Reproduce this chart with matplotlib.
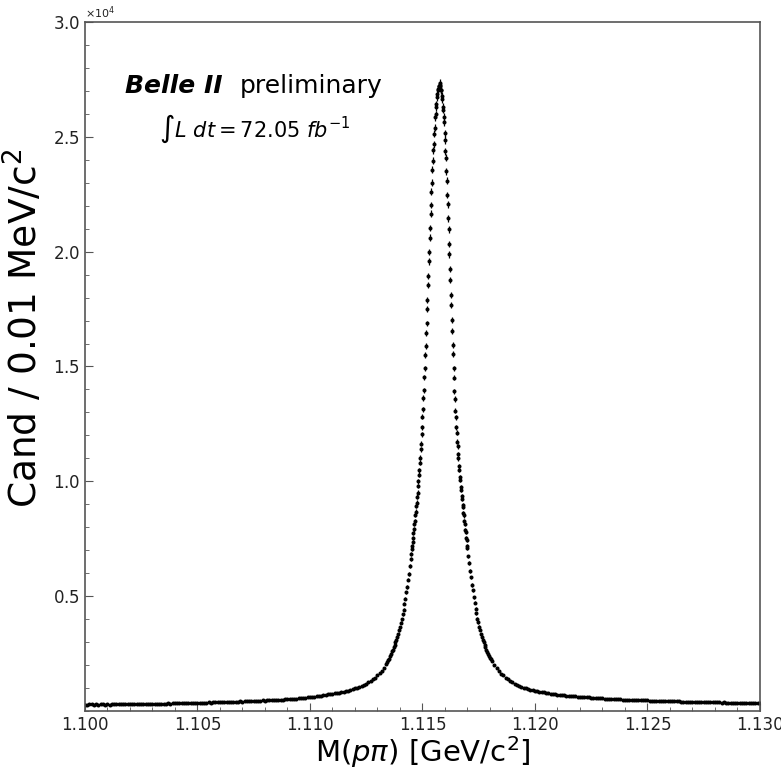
import numpy as np
import matplotlib
matplotlib.use("Agg")
import matplotlib.pyplot as plt
from matplotlib.ticker import MultipleLocator, ScalarFormatter

# ---- data (candidates per 0.01 MeV bin) ----
# left sideband, bin centres 1.1000 .. 1.1134 GeV every 0.1 MeV
counts_left = [
    281, 276, 290, 284, 273, 288, 279, 292, 285, 283,
    294, 282, 289, 297, 286, 291, 300, 288, 295, 303,
    296, 305, 292, 308, 301, 297, 311, 304, 315, 306,
    318, 309, 322, 314, 326, 317, 320, 331, 323, 335,
    328, 340, 333, 345, 338, 350, 342, 355, 347, 358,
    352, 364, 357, 369, 362, 374, 367, 380, 373, 386,
    379, 392, 385, 398, 391, 404, 398, 411, 405, 418,
    412, 425, 419, 433, 427, 441, 436, 449, 444, 458,
    456, 463, 465, 473, 475, 483, 485, 493, 496, 503,
    508, 514, 525, 531, 543, 549, 562, 569, 583, 591,
    605, 615, 631, 641, 658, 670, 688, 701, 721, 736,
    756, 771, 789, 802, 822, 838, 859, 878, 914, 942,
    981, 1010, 1048, 1083, 1134, 1182, 1243, 1291, 1374, 1455,
    1553, 1636, 1754, 1884, 2056,
]
# left rising edge, bin centres 1.11344 .. 1.11448 GeV every 0.04 MeV
counts_left_mid = [
    2117, 2214, 2281, 2402, 2478, 2593, 2661, 2786, 2869, 3004,
    3089, 3236, 3338, 3517, 3648, 3839, 3986, 4207, 4405, 4679,
    4887, 5169, 5403, 5718, 5976, 6322, 6604,
]
# peak region, bin centres 1.11450 .. 1.11700 GeV every 0.02 MeV
counts_core = [
    6851, 7046, 7172, 7368, 7521, 7749, 7904, 8131, 8282, 8523,
    8681, 8927, 9076, 9331, 9512, 9806, 9995, 10291, 10472, 10815,
    11032, 11388, 11627, 12041, 12346, 12822, 13141, 13633, 13962, 14527,
    14921, 15492, 15878, 16451, 16872, 17496, 17912, 18533, 18951, 19574,
    19988, 20612, 21031, 21652, 22031, 22613, 22992, 23571, 23952, 24411,
    24673, 25129, 25392, 25851, 25973, 26291, 26412, 26731, 26852, 27051,
    27062, 27231, 27204, 27350,
    27198, 27263, 27041, 27032, 26785, 26651, 26312, 26187, 25858, 25624,
    25147, 24866, 24371, 24092, 23498, 23091, 22468, 22063, 21457, 20972,
    20339, 19881, 19247, 18763, 18128, 17671, 17028, 16552, 15948, 15541,
    14918, 14511, 13918, 13581, 13079, 12791, 12348, 12111, 11719, 11530,
    11171, 10998, 10662, 10507, 10192, 10058, 9763, 9636, 9353, 9245,
    8972, 8874, 8613, 8515, 8252, 8154, 7893, 7795, 7533, 7432,
    7174, 7081,
]
# right falling edge, bin centres 1.11704 .. 1.11808 GeV every 0.04 MeV
counts_right_mid = [
    6731, 6442, 6087, 5823, 5494, 5251, 4943, 4718, 4447, 4262,
    4021, 3866, 3667, 3534, 3358, 3244, 3089, 2993, 2861, 2772,
    2651, 2569, 2462, 2398, 2302, 2249, 2163,
]
# right sideband, bin centres 1.1182 .. 1.1300 GeV every 0.1 MeV
counts_right = [
    2021, 1862, 1757, 1633, 1548, 1442, 1381, 1298, 1251,
    1186, 1147, 1089, 1061, 1014, 993, 952, 936, 899, 887,
    856, 845, 816, 808, 781, 774, 750, 746, 722, 719,
    699, 696, 677, 675, 657, 655, 639, 637, 621, 620,
    605, 604, 590, 590, 576, 577, 562, 563, 550, 551,
    538, 540, 526, 529, 516, 519, 506, 508, 497, 499,
    489, 491, 480, 483, 472, 475, 465, 468, 458, 462,
    452, 456, 446, 450, 440, 444, 434, 438, 428, 432,
    422, 426, 416, 420, 410, 414, 404, 408, 399, 402,
    394, 398, 389, 394, 385, 390, 381, 386, 377, 382,
    374, 378, 369, 374, 365, 370, 361, 366, 357, 363,
    355, 360, 351, 357, 349, 354, 346, 352, 344, 350,
]

x_left = 1.1000 + 0.0001 * np.arange(len(counts_left))
x_left_mid = 1.11344 + 0.00004 * np.arange(len(counts_left_mid))
x_core = 1.1145 + 0.00002 * np.arange(len(counts_core))
x_right_mid = 1.11704 + 0.00004 * np.arange(len(counts_right_mid))
x_right = 1.1182 + 0.0001 * np.arange(len(counts_right))

x = np.concatenate([x_left, x_left_mid, x_core, x_right_mid, x_right])
y = np.array(counts_left + counts_left_mid + counts_core
             + counts_right_mid + counts_right, dtype=float)
yerr = np.sqrt(y)

x_ticks = [1.100, 1.105, 1.110, 1.115, 1.120, 1.125, 1.130]
y_ticks = [5000, 10000, 15000, 20000, 25000, 30000]

# ---- figure ----
fig = plt.figure(figsize=(7.81, 7.71), dpi=100)
ax = fig.add_axes([0.1088, 0.0778, 0.8643, 0.8937])

ax.errorbar(x, y, yerr=yerr, fmt='o', ms=2.9, color='black',
            ecolor='black', elinewidth=0.9, capsize=0, mew=0)

ax.set_xlim(1.100, 1.130)
ax.set_ylim(0, 30000)
ax.set_xticks(x_ticks)
ax.set_xticklabels([f"{v:.3f}" for v in x_ticks])
ax.set_yticks(y_ticks)
ax.xaxis.set_minor_locator(MultipleLocator(0.001))
ax.yaxis.set_minor_locator(MultipleLocator(1000))

fmt = ScalarFormatter(useMathText=True)
fmt.set_powerlimits((0, 0))
ax.yaxis.set_major_formatter(fmt)
ax.yaxis.get_offset_text().set_fontsize(8)

spine_col = '#555555'
for s in ax.spines.values():
    s.set_color(spine_col)
    s.set_linewidth(1.2)
ax.tick_params(which='both', direction='in', colors=spine_col,
               labelcolor='#222222', top=False, right=False)
ax.tick_params(which='major', length=6, labelsize=12)
ax.tick_params(which='minor', length=3)

ax.set_xlabel(r'M($p\pi$) [GeV/c$^2$]', fontsize=21)
ax.xaxis.set_label_coords(0.5, -0.034)
ax.set_ylabel(r'Cand / 0.01 MeV/c$^2$', fontsize=27)
ax.yaxis.set_label_coords(-0.058, 0.555)

ax.text(0.06, 0.897, 'Belle II', transform=ax.transAxes, fontsize=18,
        fontweight='bold', fontstyle='italic', va='baseline')
ax.text(0.230, 0.897, 'preliminary', transform=ax.transAxes, fontsize=18,
        va='baseline')
ax.text(0.11, 0.834, r'$\int L\ dt = 72.05\ fb^{-1}$', transform=ax.transAxes,
        fontsize=15, va='baseline')

fig.savefig('out.png', dpi=100)
